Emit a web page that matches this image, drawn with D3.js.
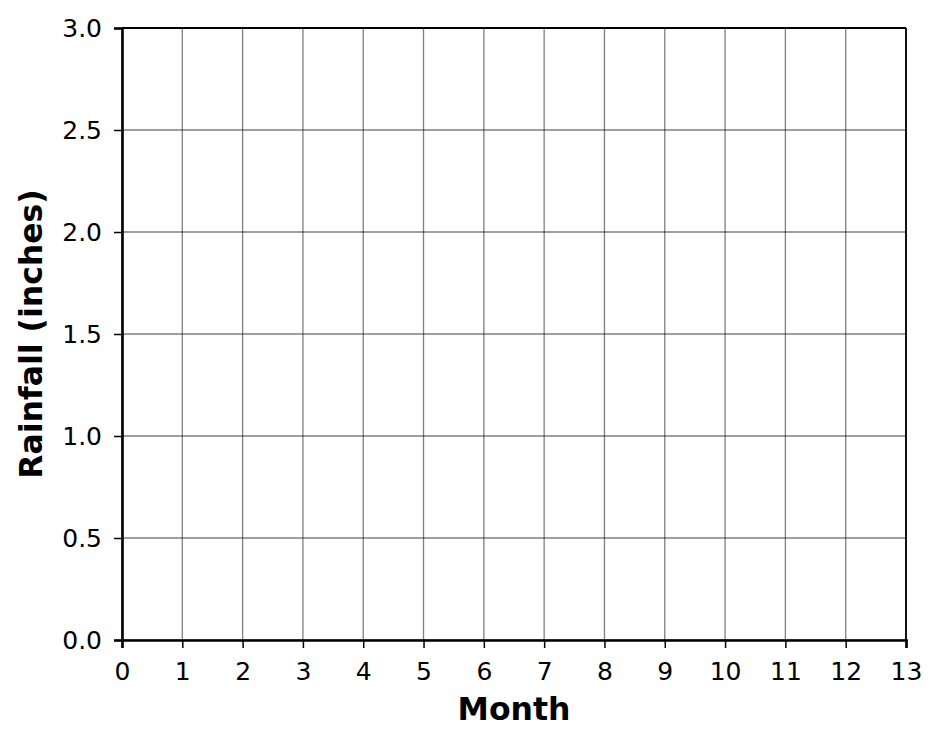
<!DOCTYPE html>
<html>
<head>
<meta charset="utf-8">
<script src="https://cdn.jsdelivr.net/npm/d3@7"></script>
<style>
  body { margin: 0; background: #fff; }
  text { font-family: "DejaVu Sans", sans-serif; fill: #000; }
</style>
</head>
<body>
<div class="chart"></div>
<script>
// empty rainfall grid: only axes, ticks and gridlines
const xTicks = [0, 1, 2, 3, 4, 5, 6, 7, 8, 9, 10, 11, 12, 13];
const yTicks = [0, 0.5, 1.0, 1.5, 2.0, 2.5, 3.0];
const xDomain = [0, 13];
const yDomain = [0, 3];
const xTitle = "Month";
const yTitle = "Rainfall (inches)";

const margin = {top: 28, left: 122, right: 35, bottom: 106};
const width = 941 - margin.left - margin.right,
    height = 746 - margin.top - margin.bottom;

const svg = d3.select(".chart")
    .append("svg")
    .attr("width", 941)
    .attr("height", 746);

const gr = svg.append("g")
    .attr("transform", "translate(" + margin.left + "," + margin.top + ")");

const xScale = d3.scaleLinear().domain(xDomain).range([0, width]);
const yScale = d3.scaleLinear().domain(yDomain).range([height, 0]);

// gridlines
gr.append("g").selectAll("line.vgrid")
    .data(xTicks)
    .join("line")
    .attr("x1", d => xScale(d)).attr("x2", d => xScale(d))
    .attr("y1", 0).attr("y2", height)
    .attr("stroke", "#000").attr("stroke-opacity", 0.5).attr("stroke-width", 1.3);

gr.append("g").selectAll("line.hgrid")
    .data(yTicks)
    .join("line")
    .attr("y1", d => yScale(d)).attr("y2", d => yScale(d))
    .attr("x1", 0).attr("x2", width)
    .attr("stroke", "#000").attr("stroke-opacity", 0.5).attr("stroke-width", 1.3);

// top / right spines
gr.append("line").attr("x1", 0).attr("x2", width).attr("y1", 0).attr("y2", 0)
    .attr("stroke", "#000").attr("stroke-width", 1.8);
gr.append("line").attr("x1", width).attr("x2", width).attr("y1", 0).attr("y2", height)
    .attr("stroke", "#000").attr("stroke-width", 1.8);

const xAxis = d3.axisBottom(xScale)
    .tickValues(xTicks)
    .tickFormat(d3.format("d"))
    .tickSize(8)
    .tickPadding(14);

const yAxis = d3.axisLeft(yScale)
    .tickValues(yTicks)
    .tickFormat(d3.format(".1f"))
    .tickSize(8)
    .tickPadding(12);

const xAxGr = gr.append("g")
    .attr("class", "axis x-axis")
    .attr("transform", "translate(0," + height + ")")
    .call(xAxis);

const yAxGr = gr.append("g")
    .attr("class", "axis y-axis")
    .call(yAxis);

[xAxGr, yAxGr].forEach(g => {
    g.select(".domain").attr("stroke", "#000").attr("stroke-width", 2.6);
    g.selectAll(".tick line").attr("stroke", "#000").attr("stroke-width", 1.5);
    g.selectAll(".tick text")
        .style("font-family", "DejaVu Sans")
        .style("font-size", "25px")
        .attr("fill", "#000");
});

// axis titles
svg.append("text")
    .attr("x", margin.left + width / 2)
    .attr("y", 720)
    .attr("text-anchor", "middle")
    .style("font-size", "31.5px")
    .style("font-weight", "bold")
    .text(xTitle);

svg.append("text")
    .attr("transform", "translate(42," + (margin.top + height / 2) + ") rotate(-90)")
    .attr("text-anchor", "middle")
    .style("font-size", "31.5px")
    .style("font-weight", "bold")
    .text(yTitle);
</script>
</body>
</html>
